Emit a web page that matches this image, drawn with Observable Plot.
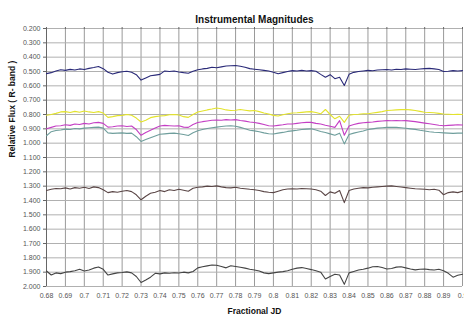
<!DOCTYPE html>
<html>
<head>
<meta charset="utf-8">
<script src="https://cdn.jsdelivr.net/npm/d3@7"></script>
<script src="https://cdn.jsdelivr.net/npm/@observablehq/plot@0.6"></script>
<style>
  html, body { margin: 0; padding: 0; background: #fff; }
</style>
</head>
<body>
<div id="chart"></div>
<script>
const title = "Instrumental Magnitudes";
const xLabel = "Fractional JD";
const yLabel = "Relative Flux ( R- band )";

const xTicks = [0.68,0.69,0.70,0.71,0.72,0.73,0.74,0.75,0.76,0.77,0.78,0.79,0.80,0.81,0.82,0.83,0.84,0.85,0.86,0.87,0.88,0.89,0.90];
const yTicks = [0.2,0.3,0.4,0.5,0.6,0.7,0.8,0.9,1.0,1.1,1.2,1.3,1.4,1.5,1.6,1.7,1.8,1.9,2.0];

// sampling times (every 0.0025 of a day from 0.68 to 0.90)
const jdStart = 0.68, jdStep = 0.0025;

const star1 = [0.515,0.508,0.497,0.488,0.492,0.485,0.490,0.482,0.486,0.478,0.472,0.465,0.480,0.505,0.518,0.508,0.502,0.498,0.505,0.522,0.560,0.545,0.530,0.525,0.520,0.496,0.500,0.497,0.503,0.508,0.512,0.498,0.488,0.482,0.478,0.470,0.474,0.468,0.462,0.460,0.458,0.463,0.470,0.480,0.484,0.488,0.492,0.496,0.505,0.516,0.508,0.500,0.494,0.497,0.492,0.496,0.494,0.498,0.520,0.540,0.522,0.550,0.540,0.598,0.520,0.506,0.500,0.496,0.492,0.495,0.490,0.488,0.486,0.490,0.484,0.486,0.482,0.484,0.486,0.483,0.480,0.478,0.482,0.486,0.500,0.498,0.494,0.496,0.494];
const star2 = [0.805,0.800,0.792,0.782,0.780,0.786,0.778,0.784,0.776,0.782,0.786,0.780,0.790,0.820,0.815,0.808,0.806,0.800,0.805,0.825,0.852,0.840,0.822,0.815,0.810,0.808,0.802,0.800,0.804,0.815,0.820,0.800,0.782,0.775,0.768,0.762,0.755,0.760,0.768,0.772,0.770,0.765,0.770,0.775,0.772,0.780,0.790,0.796,0.806,0.810,0.802,0.795,0.790,0.788,0.785,0.782,0.780,0.786,0.795,0.765,0.800,0.830,0.812,0.855,0.805,0.800,0.798,0.795,0.795,0.790,0.785,0.780,0.772,0.770,0.768,0.766,0.765,0.768,0.772,0.778,0.784,0.786,0.788,0.792,0.796,0.798,0.800,0.798,0.800];
const star3 = [0.900,0.890,0.880,0.878,0.872,0.876,0.866,0.870,0.862,0.866,0.858,0.855,0.862,0.888,0.885,0.880,0.878,0.884,0.880,0.905,0.945,0.925,0.910,0.895,0.880,0.876,0.878,0.880,0.878,0.888,0.890,0.870,0.856,0.850,0.845,0.840,0.838,0.840,0.836,0.838,0.836,0.842,0.846,0.852,0.856,0.862,0.870,0.878,0.880,0.876,0.872,0.866,0.866,0.862,0.858,0.855,0.855,0.862,0.866,0.875,0.882,0.890,0.843,0.945,0.880,0.870,0.862,0.858,0.855,0.852,0.848,0.845,0.843,0.844,0.842,0.844,0.843,0.846,0.850,0.855,0.860,0.865,0.870,0.875,0.878,0.876,0.874,0.872,0.873];
const star4 = [0.948,0.920,0.912,0.908,0.902,0.905,0.898,0.900,0.895,0.892,0.890,0.888,0.895,0.928,0.932,0.930,0.928,0.932,0.930,0.955,0.988,0.975,0.962,0.950,0.938,0.935,0.932,0.930,0.934,0.940,0.946,0.928,0.914,0.905,0.898,0.892,0.888,0.884,0.880,0.878,0.882,0.890,0.900,0.910,0.914,0.920,0.928,0.934,0.936,0.930,0.925,0.918,0.914,0.910,0.905,0.902,0.900,0.908,0.918,0.925,0.935,0.945,0.930,1.005,0.940,0.930,0.922,0.915,0.905,0.900,0.895,0.892,0.890,0.889,0.890,0.892,0.896,0.900,0.904,0.910,0.915,0.920,0.924,0.926,0.928,0.930,0.932,0.930,0.930];
const star5 = [1.330,1.322,1.316,1.318,1.312,1.320,1.310,1.314,1.308,1.316,1.305,1.310,1.325,1.345,1.338,1.342,1.335,1.330,1.338,1.360,1.395,1.370,1.350,1.342,1.330,1.338,1.325,1.330,1.322,1.328,1.335,1.315,1.308,1.305,1.300,1.302,1.298,1.305,1.310,1.312,1.308,1.315,1.318,1.322,1.325,1.330,1.338,1.342,1.345,1.335,1.325,1.320,1.318,1.320,1.316,1.318,1.320,1.325,1.335,1.365,1.340,1.350,1.330,1.415,1.330,1.320,1.315,1.310,1.312,1.308,1.305,1.302,1.300,1.298,1.302,1.306,1.310,1.314,1.318,1.320,1.322,1.325,1.322,1.328,1.360,1.345,1.340,1.345,1.335];
const star6 = [1.892,1.920,1.905,1.910,1.900,1.896,1.890,1.880,1.892,1.885,1.872,1.864,1.880,1.920,1.912,1.905,1.902,1.898,1.905,1.930,1.972,1.955,1.935,1.908,1.912,1.905,1.908,1.904,1.906,1.900,1.905,1.895,1.870,1.862,1.856,1.850,1.852,1.860,1.870,1.855,1.860,1.866,1.872,1.880,1.885,1.892,1.905,1.910,1.905,1.900,1.896,1.890,1.880,1.872,1.868,1.875,1.882,1.890,1.900,1.948,1.930,1.915,1.920,1.985,1.905,1.895,1.885,1.880,1.872,1.862,1.860,1.868,1.878,1.874,1.865,1.862,1.870,1.878,1.884,1.880,1.878,1.882,1.885,1.880,1.890,1.908,1.935,1.922,1.915];

const seriesNames = ["Star 1","Star 2","Star 3","Star 4","Star 5","Star 6"];
const seriesValues = [star1, star2, star3, star4, star5, star6];
const seriesColors = ["#2a2a78","#e3e32c","#c43fc4","#6f9e9c","#5a4646","#444444"];

const rows = [];
seriesValues.forEach((vals, s) => {
  vals.forEach((v, i) => rows.push({series: seriesNames[s], jd: jdStart + i * jdStep, mag: v}));
});

const fmtX = d => String(+d.toFixed(2));

const chart = Plot.plot({
  width: 464,
  height: 320,
  marginTop: 28,
  marginBottom: 34,
  marginLeft: 46,
  marginRight: 2,
  style: {fontFamily: "'Liberation Sans', Arial, sans-serif", fontSize: "7px", color: "#555", background: "#fff"},
  x: {domain: [0.68, 0.90]},
  y: {domain: [0.2, 2.0], reverse: true},
  color: {type: "ordinal", domain: seriesNames, range: seriesColors},
  marks: [
    Plot.gridX(xTicks, {stroke: "#9a9a9a", strokeOpacity: 1, strokeWidth: 1}),
    Plot.gridY(yTicks, {stroke: "#b0b0b0", strokeOpacity: 1, strokeWidth: 1}),
    Plot.axisY(yTicks, {tickFormat: ".3f", tickSize: 3, tickPadding: 3, label: null, stroke: "#666"}),
    Plot.axisX(xTicks, {tickFormat: fmtX, tickSize: 0, tickPadding: 7, label: null}),
    Plot.axisX(xTicks, {anchor: "top", tickFormat: () => "", tickSize: 2, label: null, stroke: "#666"}),
    Plot.ruleX([0.68], {stroke: "#666"}),
    Plot.line(rows, {x: "jd", y: "mag", z: "series", stroke: "series", strokeWidth: 1.1}),
    Plot.text([title], {frameAnchor: "top", dy: -13, fontWeight: "bold", fontSize: 10, fill: "#111"}),
    Plot.text([xLabel], {frameAnchor: "bottom", dy: 27, fontWeight: "bold", fontSize: 8.5, fill: "#111"}),
    Plot.text([yLabel], {frameAnchor: "left", rotate: -90, dx: -34, fontWeight: "bold", fontSize: 8.5, fill: "#111"})
  ]
});
document.getElementById("chart").appendChild(chart);
</script>
</body>
</html>
